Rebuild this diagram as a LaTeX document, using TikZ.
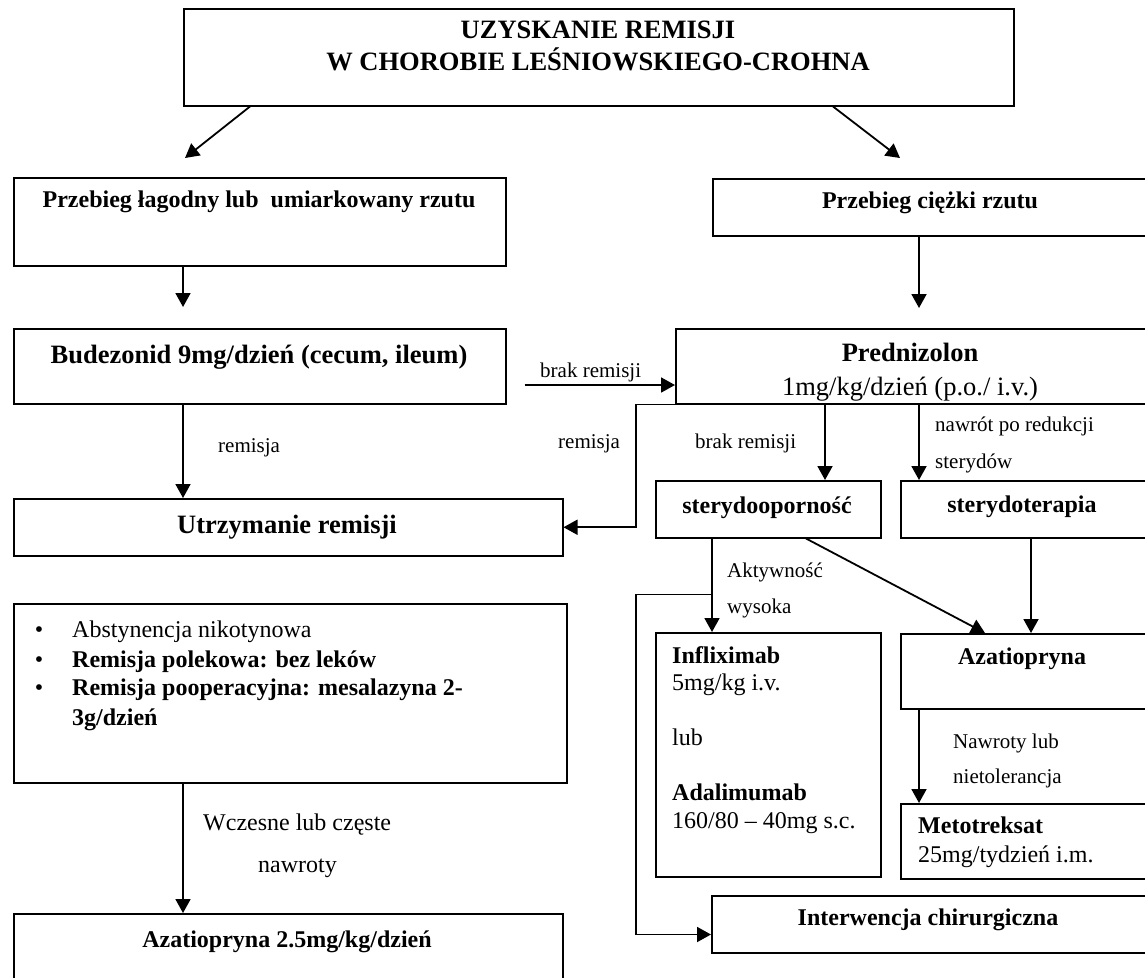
\documentclass[tikz,border=0pt]{standalone}
\usepackage{fontspec}
\setmainfont{Liberation Serif}
\usetikzlibrary{arrows.meta,calc}

\begin{document}
\begin{tikzpicture}[x=1pt,y=-1pt,
  box/.style={draw, line width=1.5pt, rectangle, inner sep=0pt, anchor=north west},
  arr/.style={line width=1.8pt, -{Triangle[length=14pt,width=15pt]}},
  T/.style={inner sep=0pt, anchor=base},
  TL/.style={inner sep=0pt, anchor=base west},
  f21/.style={font=\fontsize{21}{25}\selectfont},
  f24/.style={font=\fontsize{24}{28}\selectfont},
  f24b/.style={font=\fontsize{24}{28}\selectfont\bfseries},
  f26/.style={font=\fontsize{26.5}{31}\selectfont},
  f26b/.style={font=\fontsize{26.5}{31}\selectfont\bfseries}
]
\useasboundingbox (0,0) rectangle (1145,977);

% ---------- boxes ----------
\node[box, minimum width=830pt, minimum height=97pt]  (top)   at (183,8)   {};
\node[box, minimum width=492pt, minimum height=88pt]  (b1)    at (13,177)  {};
\node[box, minimum width=440pt, minimum height=57pt]  (b2)    at (712,178) {};
\node[box, minimum width=492pt, minimum height=75pt]  (bud)   at (13,328)  {};
\node[box, minimum width=477pt, minimum height=75pt]  (pred)  at (675,328) {};
\node[box, minimum width=549pt, minimum height=57pt]  (utr)   at (13,498)  {};
\node[box, minimum width=225pt, minimum height=57pt]  (ster)  at (655,480) {};
\node[box, minimum width=252pt, minimum height=57pt]  (sterT) at (900,480) {};
\node[box, minimum width=553pt, minimum height=179pt] (bul)   at (13,603)  {};
\node[box, minimum width=225pt, minimum height=244pt] (infl)  at (655,632) {};
\node[box, minimum width=252pt, minimum height=75pt]  (aza)   at (900,633) {};
\node[box, minimum width=252pt, minimum height=75pt]  (meto)  at (900,803) {};
\node[box, minimum width=441pt, minimum height=57pt]  (surg)  at (711,895) {};
\node[box, minimum width=549pt, minimum height=80pt]  (aza2)  at (13,913)  {};

% ---------- box texts ----------
\node[T,f26b] (t1) at (598,38) {UZYSKANIE REMISJI};
\node[T,f26b] (t2) at (598,70) {W CHOROBIE LEŚNIOWSKIEGO-CROHNA};
\node[T,f24b] (tb1) at (259,207) {Przebieg łagodny lub~ umiarkowany rzutu};
\node[T,f24b] (tb2) at (930,208) {Przebieg ciężki rzutu};
\node[T,f26b] (tbud) at (259,363) {Budezonid 9mg/dzień (cecum, ileum)};
\node[T,f26b] (tpr1) at (910,361) {Prednizolon};
\node[T,f26]  (tpr2) at (910,395) {1mg/kg/dzień (p.o./ i.v.)};
\node[T,f26b] (tutr) at (287,533) {Utrzymanie remisji};
\node[T,f24b] (tst) at (767,513) {sterydooporność};
\node[T,f24b] (tstT) at (1022,512) {sterydoterapia};
\node[TL,f24b] (tinfA) at (672,663) {Infliximab};
\node[TL,f24]  (tinfB) at (672,690) {5mg/kg i.v.};
\node[TL,f24]  (tinfC) at (672,745) {lub};
\node[TL,f24b] (tinfD) at (672,800) {Adalimumab};
\node[TL,f24]  (tinfE) at (672,828) {160/80 \textendash{} 40mg s.c.};
\node[T,f24b]  (taza) at (1022,664) {Azatiopryna};
\node[TL,f24b] (tmet1) at (918,833) {Metotreksat};
\node[TL,f24]  (tmet2) at (918,862) {25mg/tydzień i.m.};
\node[T,f24b]  (tsurg) at (928,925) {Interwencja chirurgiczna};
\node[T,f24b]  (taza2) at (287,947) {Azatiopryna 2.5mg/kg/dzień};

% bullet list
\node[T,f24]   (bu1) at (39,637) {•};
\node[T,f24]   (bu2) at (39,667) {•};
\node[T,f24]   (bu3) at (39,695) {•};
\node[TL,f24]  (bl1) at (72,637) {Abstynencja nikotynowa};
\node[TL,f24b] (bl2) at (72,667) {Remisja polekowa: bez leków};
\node[TL,f24b] (bl3) at (72,695) {Remisja pooperacyjna: mesalazyna 2-};
\node[TL,f24b] (bl4) at (72,725) {3g/dzień};

% ---------- connector labels ----------
\node[TL,f21] (lbr1) at (540,377) {brak remisji};
\node[TL,f21] (lrem1) at (218,452) {remisja};
\node[TL,f21] (lrem2) at (558,448) {remisja};
\node[TL,f21] (lbr2) at (695,448) {brak remisji};
\node[TL,f21] (lnaw1) at (935,431) {nawrót po redukcji};
\node[TL,f21] (lnaw2) at (935,468) {sterydów};
\node[TL,f21] (lakt1) at (727,577) {Aktywność};
\node[TL,f21] (lakt2) at (727,613) {wysoka};
\node[TL,f21] (lnt1) at (953,748) {Nawroty lub};
\node[TL,f21] (lnt2) at (953,783) {nietolerancja};
\node[TL,f24] (lwc1) at (203,830) {Wczesne lub częste};
\node[TL,f24] (lwc2) at (258,872) {nawroty};

% ---------- connectors ----------
\coordinate (cx) at (636,0);
\draw[arr] ($(top.south west)+(67,0)$) -- ($(b1.north west)+(172,-19)$);
\draw[arr] ($(top.south west)+(650,0)$) -- ($(b2.north west)+(188,-20)$);
\draw[arr] ($(b1.south west)+(170,0)$) -- ($(bud.north west)+(170,-21)$);
\draw[arr] ($(b2.south west)+(207,0)$) -- ($(pred.north west)+(244,-20)$);
\draw[arr] ($(bud.north east)+(18,57)$) coordinate (br) -- (br -| pred.west);
\draw[arr] ($(bud.south west)+(170,0)$) coordinate (bd) -- (bd |- utr.north);
\draw[arr] ($(pred.south west)+(37,0)$) -- (pred.south -| cx) -- (utr.east -| cx) -- (utr.east);
\draw[arr] ($(pred.south west)+(150,0)$) coordinate (p1) -- (p1 |- ster.north);
\draw[arr] ($(pred.south west)+(244,0)$) coordinate (p2) -- (p2 |- sterT.north);
\draw[arr] ($(ster.south west)+(57,0)$) coordinate (s1) -- (s1 |- infl.north);
\draw[arr] ($(ster.south west)+(151,0)$) -- ($(aza.north west)+(85,0)$);
\draw[arr] ($(sterT.south west)+(131,0)$) coordinate (s2) -- (s2 |- aza.north);
\draw[arr] ($(aza.south west)+(19,0)$) coordinate (a1) -- (a1 |- meto.north);
\coordinate (sa) at ($(surg.south west)+(0,-19)$);
\draw[arr] ($(ster.south west)+(57,56)$) coordinate (s3) -- (s3 -| cx) -- (cx |- sa) -- (sa);
\draw[arr] ($(bul.south west)+(170,0)$) coordinate (u1) -- (u1 |- aza2.north);

\end{tikzpicture}
\end{document}
